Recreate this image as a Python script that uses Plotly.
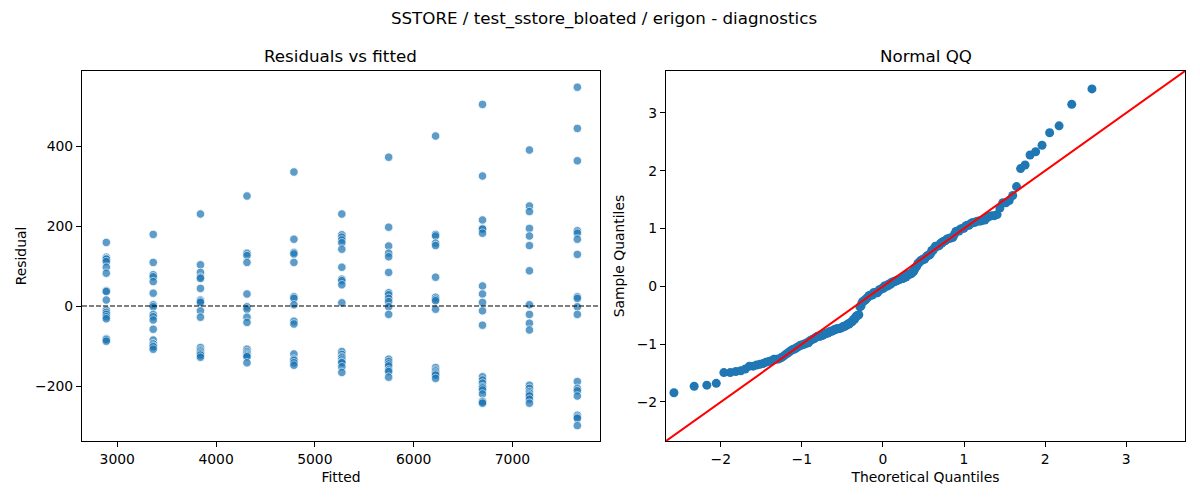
import statistics
import numpy as np
import plotly.graph_objects as go
from plotly.subplots import make_subplots

# Fitted levels (one per column of points) ------------------------------------
FITTED = [2889, 3364, 3842, 4313, 4788, 5273, 5747, 6222, 6697, 7172, 7657]
# Residuals, per fitted level -------------------------------------------------
RES_0 = [159, 122, 118, 117, 111, 97, 82, 38, 36, 15, -10, -16, -21, -27, -32, -82, -84, -88]
RES_1 = [179, 109, 78, 73, 61, 32, 3, -2, -21, -27, -35, -58, -85, -95, -95, -100, -102, -108]
RES_2 = [230, 103, 84, 72, 69, 44, 15, 12, 9, -12, -28, -104, -110, -113, -117, -120, -123, -128]
RES_3 = [275, 132, 126, 109, 30, -2, -8, -28, -41, -108, -114, -118, -121, -124, -127, -142]
RES_4 = [335, 167, 134, 130, 109, 23, 19, 3, -38, -45, -120, -133, -136, -142, -148]
RES_5 = [230, 178, 172, 165, 158, 142, 97, 67, 63, 53, 8, -114, -121, -127, -130, -135, -140, -142, -152, -166]
RES_6 = [372, 197, 150, 132, 123, 84, 33, 28, 19, 11, -2, -21, -133, -139, -145, -150, -160, -164, -178]
RES_7 = [425, 179, 175, 157, 151, 72, 22, 17, 13, -8, -154, -160, -163, -167, -170, -173, -181]
RES_8 = [504, 325, 215, 194, 192, 182, 50, 30, 9, -12, -48, -177, -185, -193, -202, -205, -210, -220, -238, -240, -243]
RES_9 = [390, 250, 236, 194, 175, 151, 88, 3, -21, -43, -60, -198, -206, -214, -218, -222, -225, -233, -243]
RES_10 = [547, 444, 363, 188, 182, 167, 129, 23, 19, -2, -21, -189, -206, -212, -225, -273, -278, -281, -299]
RESIDUALS = [RES_0, RES_1, RES_2, RES_3, RES_4, RES_5, RES_6, RES_7, RES_8, RES_9, RES_10]

fx = []
fy = []
for lvl, res in zip(FITTED, RESIDUALS):
    fx += [lvl] * len(res)
    fy += res
fy = np.array(fy, dtype=float)

# Normal QQ (standardised residuals vs normal plotting positions) -------------
n = len(fy)
sample_q = np.sort((fy - fy.mean()) / fy.std())
nd = statistics.NormalDist()
theo_q = np.array([nd.inv_cdf(i / (n + 1)) for i in range(1, n + 1)])
QQ_LIM = [-2.675, 3.725]

FONT = "DejaVu Sans"
# page body adds an 8px offset, so the figure is 8px smaller than the window
W, H = 1192, 492
fig = make_subplots(rows=1, cols=2, horizontal_spacing=0.06)
fig.add_trace(go.Scatter(
    x=fx, y=fy, mode="markers",
    marker=dict(size=8.5, color="#1f77b4", opacity=0.72,
                line=dict(color="white", width=0.8)),
    showlegend=False
), row=1, col=1)
fig.add_trace(go.Scatter(
    x=[2643, 7886], y=[0, 0], mode="lines",
    line=dict(color="black", width=1.2, dash="5px,2px"),
    showlegend=False, hoverinfo="skip"
), row=1, col=1)
fig.add_trace(go.Scatter(
    x=theo_q, y=sample_q, mode="markers",
    marker=dict(size=9, color="#1f77b4"),
    showlegend=False
), row=1, col=2)
fig.add_trace(go.Scatter(
    x=QQ_LIM, y=QQ_LIM, mode="lines",
    line=dict(color="red", width=2), showlegend=False
), row=1, col=2)

axis_style = dict(
    showgrid=False, zeroline=False, showline=True, mirror=True,
    linecolor="black", linewidth=1.1, ticks="outside", ticklen=5,
    tickwidth=1.1, tickcolor="black", automargin=False,
    tickfont=dict(family=FONT, size=13.9, color="black"),
    title_font=dict(family=FONT, size=13.9, color="black"),
)
fig.update_xaxes(**axis_style)
fig.update_yaxes(**axis_style)
fig.update_xaxes(domain=[0, 0.4696], range=[2643, 7886], tickvals=[3000, 4000, 5000, 6000, 7000],
                 title_text="Fitted", title_standoff=6, row=1, col=1)
fig.update_yaxes(range=[-337.5, 587.5], tickvals=[-200, 0, 200, 400],
                 title_text="Residual", title_standoff=5, row=1, col=1)
fig.update_xaxes(domain=[0.5295, 1], range=QQ_LIM, tickvals=[-2, -1, 0, 1, 2, 3],
                 title_text="Theoretical Quantiles", title_standoff=6, row=1, col=2)
fig.update_yaxes(range=QQ_LIM, tickvals=[-2, -1, 0, 1, 2, 3],
                 title_text="Sample Quantiles", title_standoff=8, row=1, col=2)

for xc, txt in [(0.2348, "Residuals vs fitted"), (0.7648, "Normal QQ")]:
    fig.add_annotation(x=xc, y=1.0405, xref="paper", yref="paper", text=txt,
                       showarrow=False, xanchor="center", yanchor="middle",
                       font=dict(family=FONT, size=16.7, color="black"))

fig.update_layout(
    width=W, height=H,
    margin=dict(l=74, r=15, t=63, b=59, autoexpand=False),
    paper_bgcolor="white", plot_bgcolor="white",
    title=dict(text="SSTORE / test_sstore_bloated / erigon - diagnostics",
               x=0.5, xanchor="center", y=1 - 10 / H, yanchor="middle",
               font=dict(family=FONT, size=16.7, color="black")),
    font=dict(family=FONT, color="black"),
)
fig.write_html("out.html")
